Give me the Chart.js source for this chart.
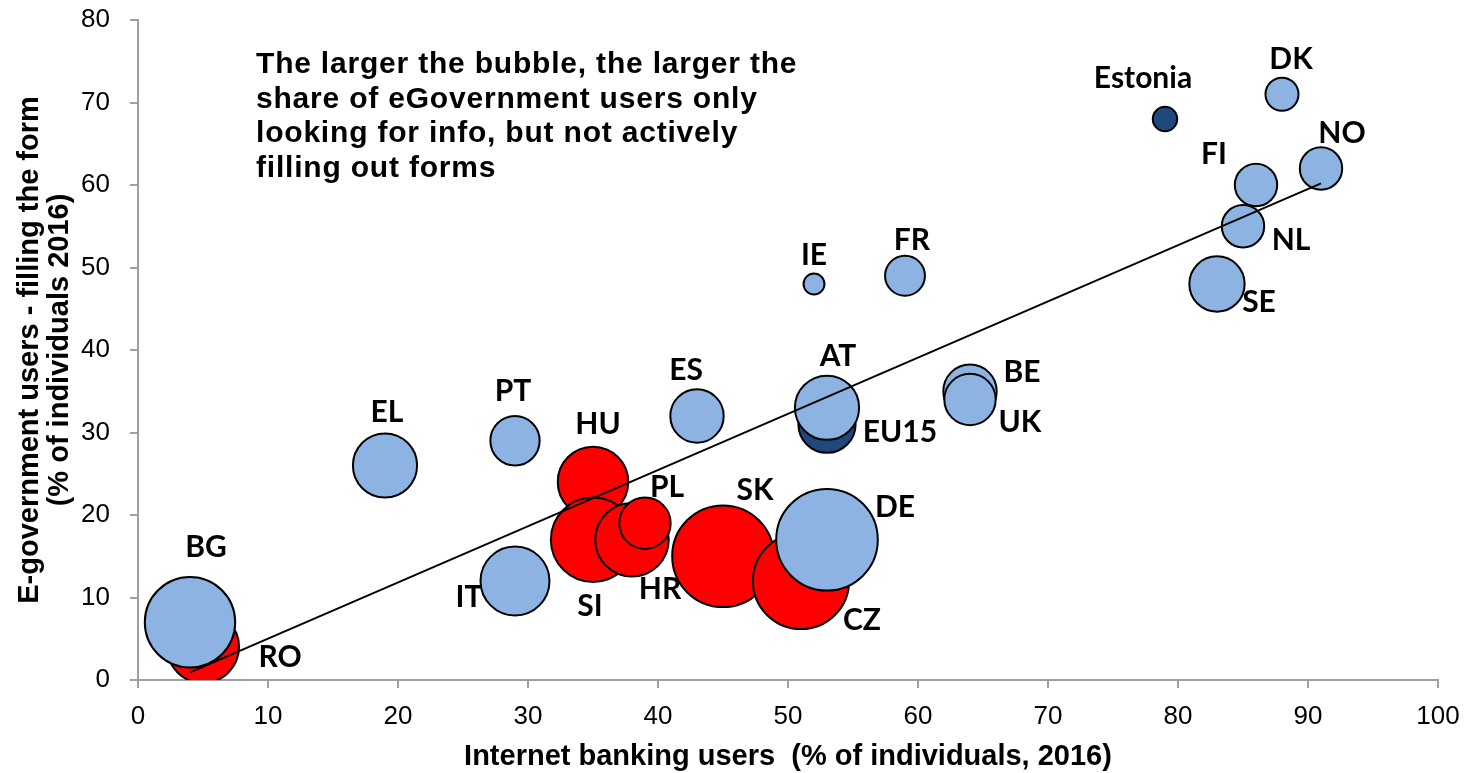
<!DOCTYPE html>
<html>
<head>
<meta charset="utf-8">
<script src="https://cdn.jsdelivr.net/npm/chart.js@4/dist/chart.umd.min.js"></script>
<style>
  html, body { margin: 0; padding: 0; background: #fff; }
  #wrap { width: 1481px; height: 773px; position: relative; }
</style>
</head>
<body>
<div id="wrap"><canvas id="bubbleChart"></canvas></div>
<script>
// data (drawing order: later points sit on top)
const countries       = ['RO', 'BG', 'IT', 'EL', 'PT', 'HU', 'SI', 'HR', 'PL', 'SK', 'CZ', 'DE', 'ES', 'EU15', 'AT', 'BE', 'UK', 'IE', 'FR', 'Estonia', 'SE', 'FI', 'NL', 'NO', 'DK'];
const internetBanking = [5, 4, 29, 19, 29, 35, 35, 38, 39, 45, 51, 53, 43, 53, 53, 64, 64, 52, 59, 79, 83, 86, 85, 91, 88];
const eGovForms       = [4, 7, 12, 26, 29, 24, 17, 17, 19, 15, 12, 17, 32, 31, 33, 35, 34, 48, 49, 68, 48, 60, 55, 62, 71];
// share of eGov users only looking for info (bubble size)
const infoOnlyShare   = [25, 39, 23, 20, 12, 24, 34, 26, 13, 49, 44, 49, 14, 16, 20, 14, 13, 2.4, 8, 3.2, 15, 9, 9, 9, 5.6];
const countryGroup    = ['cee', 'other', 'other', 'other', 'other', 'cee', 'cee', 'cee', 'cee', 'cee', 'cee', 'other', 'other', 'ref', 'other', 'other', 'other', 'other', 'other', 'ref', 'other', 'other', 'other', 'other', 'other'];

const xTitle = 'Internet banking users  (% of individuals, 2016)';
const yTitle = ['E-government users - filling the form', '(% of individuals 2016)'];
const noteLines = [
    'The larger the bubble, the larger the',
    'share of eGovernment users only',
    'looking for info, but not actively',
    'filling out forms'
];

const groupColors = { cee: '#FF0000', other: '#8DB3E2', ref: '#1F497D' };

// where each label sits relative to its bubble centre (px)
const labelOffsets = {
    RO: [77, 10], BG: [16, -75], IT: [-46, 16], EL: [2, -53], PT: [-2, -49],
    HU: [5, -58], SI: [-3, 67], HR: [28, 50], PL: [22, -36], SK: [32, -66],
    CZ: [61, 39], DE: [68, -32], ES: [-11, -46], EU15: [73, 8], AT: [11, -51],
    BE: [52, -19], UK: [50, 23], IE: [0, -29], FR: [7, -35], Estonia: [-22, -41],
    SE: [42, 18], FI: [-42, -31], NL: [48, 14], NO: [21, -35], DK: [9, -35]
};

function bubbleRadius(share) {
    return 7.4 * Math.sqrt(share) - 1;
}

// linear trend (least squares) over the country points
function trendLine() {
    const pts = [];
    countries.forEach((c, i) => {
        if (c !== 'EU15') pts.push([internetBanking[i], eGovForms[i]]);
    });
    const n = pts.length;
    const mx = pts.reduce((s, p) => s + p[0], 0) / n;
    const my = pts.reduce((s, p) => s + p[1], 0) / n;
    let sxy = 0, sxx = 0;
    pts.forEach(p => { sxy += (p[0] - mx) * (p[1] - my); sxx += (p[0] - mx) * (p[0] - mx); });
    const b = sxy / sxx, a = my - b * mx;
    const xs = pts.map(p => p[0]);
    const x0 = Math.min(...xs), x1 = Math.max(...xs);
    return [{ x: x0, y: a + b * x0 }, { x: x1, y: a + b * x1 }];
}

const bubbleData = countries.map((c, i) => ({
    x: internetBanking[i],
    y: eGovForms[i],
    r: bubbleRadius(infoOnlyShare[i])
}));

const axisGray = '#A0A0A0';
const tickFont = { family: "'Liberation Sans', Arial, sans-serif", size: 26 };
const titleFont = { family: "'Liberation Sans', Arial, sans-serif", size: 29, weight: 'bold', lineHeight: 1.03 };

const labelsPlugin = {
    id: 'countryLabels',
    afterDatasetsDraw(chart) {
        const ctx = chart.ctx;
        const meta = chart.getDatasetMeta(1);
        ctx.save();
        ctx.font = "bold 30px Lato, 'Open Sans', sans-serif";
        ctx.fillStyle = '#000';
        ctx.textAlign = 'center';
        ctx.textBaseline = 'middle';
        meta.data.forEach((pt, i) => {
            const off = labelOffsets[countries[i]] || [0, 0];
            ctx.fillText(countries[i], pt.x + off[0], pt.y + off[1]);
        });
        ctx.restore();
    }
};

const notePlugin = {
    id: 'bubbleNote',
    afterDraw(chart) {
        const ctx = chart.ctx;
        const area = chart.chartArea;
        ctx.save();
        ctx.font = "bold 30px 'Liberation Sans', Arial, sans-serif";
        ctx.letterSpacing = '0.8px';
        ctx.fillStyle = '#000';
        ctx.textAlign = 'left';
        ctx.textBaseline = 'alphabetic';
        noteLines.forEach((line, i) => {
            ctx.fillText(line, area.left + 118, area.top + 53 + i * 34.7);
        });
        ctx.restore();
    }
};

function buildChart() {
    const ctx = document.getElementById('bubbleChart').getContext('2d');
    new Chart(ctx, {
        data: {
            datasets: [
                {
                    type: 'line',
                    data: trendLine(),
                    borderColor: '#000',
                    borderWidth: 2,
                    pointRadius: 0,
                    fill: false,
                    order: 0
                },
                {
                    type: 'bubble',
                    data: bubbleData,
                    backgroundColor: countryGroup.map(g => groupColors[g]),
                    borderColor: '#000',
                    borderWidth: 2,
                    order: 1
                }
            ]
        },
        options: {
            responsive: true,
            maintainAspectRatio: false,
            animation: false,
            events: [],
            layout: { autoPadding: false, padding: { left: 0, right: 43, top: 20, bottom: 0 } },
            scales: {
                x: {
                    type: 'linear',
                    min: 0,
                    max: 100,
                    ticks: { stepSize: 10, font: tickFont, color: '#000', padding: 13 },
                    grid: { display: true, drawOnChartArea: false, drawTicks: true, tickLength: 8, color: axisGray, lineWidth: 2 },
                    border: { display: true, color: axisGray, width: 2 },
                    title: { display: true, text: xTitle, font: titleFont, color: '#000', padding: { top: 0, bottom: 1 } },
                    afterFit(scale) { scale.height = 93; }
                },
                y: {
                    type: 'linear',
                    min: 0,
                    max: 80,
                    ticks: { stepSize: 10, font: tickFont, color: '#000', padding: 20 },
                    grid: { display: true, drawOnChartArea: false, drawTicks: true, tickLength: 8, color: axisGray, lineWidth: 2 },
                    border: { display: true, color: axisGray, width: 2 },
                    title: { display: true, text: yTitle, font: titleFont, color: '#000', padding: { top: 15, bottom: 0 } },
                    afterFit(scale) {
                        scale.width = 138;
                        scale.paddingTop = 0;
                        scale.paddingBottom = 0;
                    }
                }
            },
            plugins: {
                legend: { display: false },
                tooltip: { enabled: false }
            }
        },
        plugins: [labelsPlugin, notePlugin]
    });
}

Promise.all([
    document.fonts.load("bold 30px Lato"),
    document.fonts.load("bold 30px 'Liberation Sans'"),
    document.fonts.load("26px 'Liberation Sans'")
]).catch(() => {}).then(buildChart);
</script>
</body>
</html>
